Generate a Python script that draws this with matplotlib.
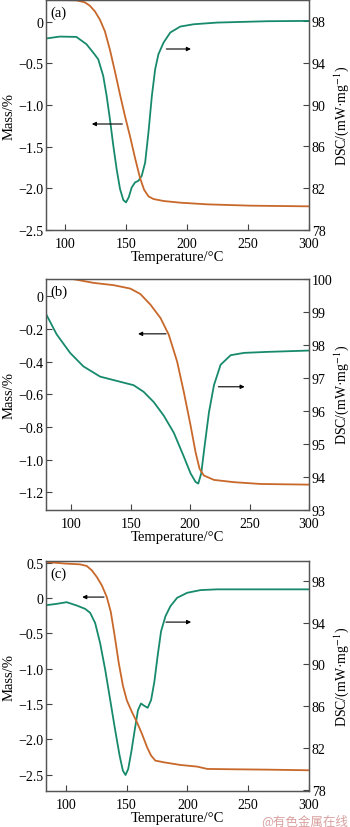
import matplotlib.pyplot as plt
import numpy as np

plt.rcParams['font.family'] = ['Liberation Serif', 'DejaVu Serif']
plt.rcParams['mathtext.fontset'] = 'stix'
plt.rcParams['font.size'] = 10

ORANGE = '#c8682a'
GREEN = '#178a6c'

# ---- panel (a) ----
a_mass_T = [84, 109.3, 116.2, 120.3, 124.5, 128.6, 132.7, 136.8, 140.9, 145.1, 149.2, 153.3,
            157.4, 161.5, 164.8, 168.4, 172.5, 180.8, 194.5, 216.5, 252.2, 300]
a_mass = [0.264, 0.256, 0.232, 0.192, 0.124, 0.024, -0.116, -0.336, -0.596, -0.876, -1.136,
          -1.376, -1.636, -1.876, -2.016, -2.096, -2.128, -2.152, -2.172, -2.192, -2.208, -2.216]
a_dsc_T = [84.1, 95.6, 109.3, 117.6, 123.1, 127.2, 131.3, 134.1, 136.8, 139.6, 142.3, 145.1,
           147.8, 150.0, 152.2, 154.7, 157.4, 160.2, 162.9, 165.7, 168.4, 171.2, 173.9, 176.6,
           180.8, 186.3, 194.5, 205.5, 224.7, 265.9, 300]
a_dsc = [96.31, 96.50, 96.47, 95.77, 94.97, 94.34, 92.75, 90.84, 88.61, 86.06, 83.83, 81.92,
         80.87, 80.64, 81.12, 82.08, 82.55, 82.71, 83.19, 84.46, 87.33, 90.83, 93.38, 94.82,
         95.93, 96.89, 97.46, 97.68, 97.84, 97.97, 98.0]

# ---- panel (b) ----
b_mass_T = [78, 100, 118.6, 135.5, 149.6, 158, 166.5, 175, 182, 189, 194.6, 200.3,
            204.5, 207.9, 211.5, 220, 236.9, 259.4, 300]
b_mass = [0.12, 0.107, 0.082, 0.068, 0.047, 0.014, -0.051, -0.133, -0.236, -0.4, -0.585, -0.79,
          -0.954, -1.056, -1.097, -1.124, -1.138, -1.149, -1.153]
b_dsc_T = [78.6, 87.6, 98.9, 110.1, 124.2, 138.3, 152.4, 160.8, 169.3, 177.7, 186.2, 194.6,
           200.3, 204.5, 206.8, 209.3, 212.1, 215.8, 220, 225.6, 234.1, 245.4, 265, 300]
b_dsc = [98.94, 98.32, 97.76, 97.35, 97.04, 96.91, 96.78, 96.58, 96.27, 95.86, 95.34, 94.62,
         94.11, 93.85, 93.8, 94.11, 94.93, 95.96, 96.78, 97.4, 97.69, 97.76, 97.79, 97.83]

# ---- panel (c) ----
c_mass_T = [83.8, 100.8, 111.8, 117.3, 121.5, 125.6, 129.7, 133.8, 137.1, 140.2, 143.5, 147,
            150.3, 154.5, 158.6, 162.7, 166.9, 170.2, 173.7, 180.6, 194.4, 208.1, 216.4,
            238.4, 265.9, 300]
c_mass = [0.509, 0.486, 0.476, 0.453, 0.391, 0.297, 0.179, 0.013, -0.199, -0.529, -0.908,
          -1.238, -1.451, -1.616, -1.758, -1.923, -2.112, -2.23, -2.301, -2.325, -2.363,
          -2.386, -2.419, -2.424, -2.429, -2.438]
c_dsc_T = [83.8, 92.6, 100.8, 109.1, 116, 120.1, 124.2, 128.3, 132.5, 136.6, 140.7, 144.3,
           147, 149.2, 151.4, 153.9, 156.7, 159.4, 161.9, 164.6, 167.4, 170.2, 172.9, 175.7,
           178.4, 182, 186.1, 191.6, 199.9, 210.9, 224.6, 300]
c_dsc = [95.68, 95.81, 95.97, 95.65, 95.33, 94.95, 93.98, 92.05, 89.48, 86.59, 83.69, 81.28,
         79.83, 79.41, 79.99, 81.6, 83.69, 85.62, 86.26, 86.04, 85.85, 86.59, 88.35, 90.93,
         93.18, 94.62, 95.59, 96.39, 96.87, 97.13, 97.2, 97.2]

panels = [
    dict(tag='(a)', pos=[0.1314, 0.721, 0.7514, 0.2778], xlim=(84.4, 300),
         ylim=(-2.5, 0.26), yticks=[-2.5, -2.0, -1.5, -1.0, -0.5, 0],
         ylabels=['\u22122.5', '\u22122.0', '\u22121.5', '\u22121.0', '\u22120.5', '0'],
         rlim=(78, 100), rticks=[78, 82, 86, 90, 94, 98],
         mT=a_mass_T, m=a_mass, dT=a_dsc_T, d=a_dsc,
         larrow=(149.3, 119.7, -1.228), rarrow=(180.8, 205.5, -0.328)),
    dict(tag='(b)', pos=[0.1314, 0.3829, 0.7514, 0.279], xlim=(78.6, 300),
         ylim=(-1.308, 0.106), yticks=[-1.2, -1.0, -0.8, -0.6, -0.4, -0.2, 0],
         ylabels=['\u22121.2', '\u22121.0', '\u22120.8', '\u22120.6', '\u22120.4', '\u22120.2', '0'],
         rlim=(93, 100), rticks=[93, 94, 95, 96, 97, 98, 99, 100],
         mT=b_mass_T, m=b_mass, dT=b_dsc_T, d=b_dsc,
         larrow=(182, 153.8, -0.23), rarrow=(221.4, 248.2, -0.554)),
    dict(tag='(c)', pos=[0.1314, 0.0429, 0.7514, 0.2784], xlim=(83.8, 300),
         ylim=(-2.738, 0.524), yticks=[-2.5, -2.0, -1.5, -1.0, -0.5, 0, 0.5],
         ylabels=['\u22122.5', '\u22122.0', '\u22121.5', '\u22121.0', '\u22120.5', '0', '0.5'],
         rlim=(77.83, 99.92), rticks=[78, 82, 86, 90, 94, 98],
         mT=c_mass_T, m=c_mass, dT=c_dsc_T, d=c_dsc,
         larrow=(133.8, 111.3, 0.013), rarrow=(180.1, 205.4, -0.341)),
]

fig = plt.figure(figsize=(3.5, 8.28), dpi=100)

for p in panels:
    ax = fig.add_axes(p['pos'])
    ax2 = ax.twinx()
    ax.plot(p['mT'], p['m'], color=ORANGE, lw=1.3)
    ax2.plot(p['dT'], p['d'], color=GREEN, lw=1.3)
    ax.set_xlim(*p['xlim'])
    ax.set_ylim(*p['ylim'])
    ax2.set_ylim(*p['rlim'])
    ax.set_xticks([100, 150, 200, 250, 300])
    ax.set_yticks(p['yticks'])
    ax.set_yticklabels(p['ylabels'])
    ax2.set_yticks(p['rticks'])
    for a in (ax, ax2):
        a.tick_params(direction='in', length=4, width=0.8, labelsize=10, pad=2,
                      colors='#444444', labelcolor='black')
        for s in a.spines.values():
            s.set_color('#555555')
            s.set_linewidth(0.9)
    ax.tick_params(axis='x', pad=5)
    ax.set_xlabel('Temperature/\u00b0C', fontsize=10.5, labelpad=0)
    ax.set_ylabel('Mass/%', fontsize=10.5, labelpad=2)
    ax2.set_ylabel('DSC/(mW\u00b7mg$^{-1}$)', fontsize=10, va='center')
    ax2.yaxis.set_label_coords(1.125, 0.5)
    ax.text(0.018, 0.945, p['tag'], transform=ax.transAxes, fontsize=10.5, va='center')
    x0, x1, yl = p['larrow']
    ax.annotate('', xy=(x1, yl), xytext=(x0, yl),
                arrowprops=dict(arrowstyle='-|>', color='black', lw=0.8, mutation_scale=6))
    x0, x1, yr = p['rarrow']
    ax.annotate('', xy=(x1, yr), xytext=(x0, yr),
                arrowprops=dict(arrowstyle='-|>', color='black', lw=0.8, mutation_scale=6))
    ax.set_zorder(ax2.get_zorder() + 1)
    ax.patch.set_visible(False)

fig.text(0.995, 0.0, '@有色金属在线', ha='right', va='bottom', fontsize=9,
         color='#d9a0a0', family=['Noto Sans CJK SC', 'DejaVu Sans'])

fig.savefig('out.png', dpi=100)
